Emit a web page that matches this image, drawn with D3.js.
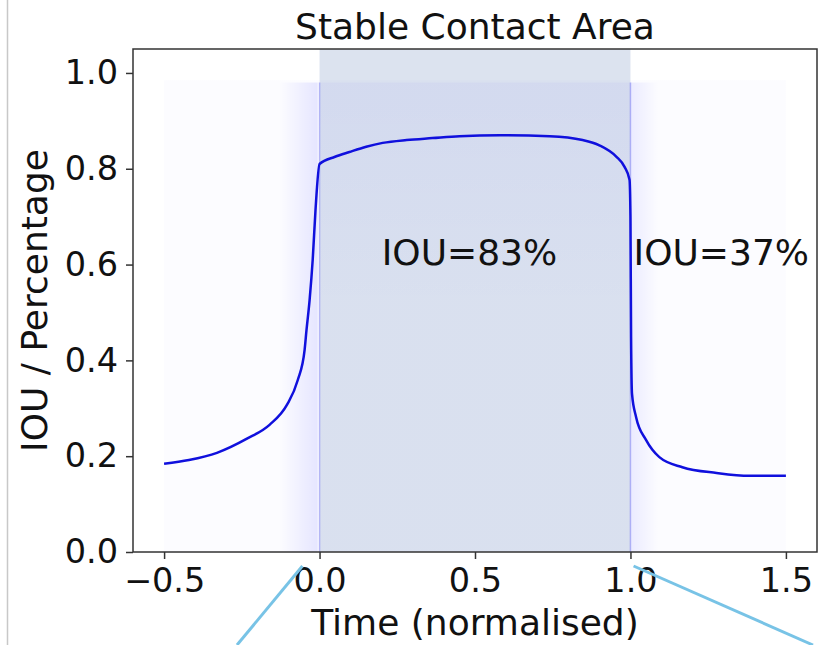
<!DOCTYPE html>
<html>
<head>
<meta charset="utf-8">
<script src="https://cdn.jsdelivr.net/npm/d3@7"></script>
<style>
  body { margin: 0; background: #fff; }
  svg { display: block; font-family: "DejaVu Sans", sans-serif; }
</style>
</head>
<body>
<div id="chart"></div>
<script>
// mean IOU curve
const meanTime = [-0.5, -0.42, -0.33, -0.235, -0.16, -0.105, -0.07, -0.048, -0.042, -0.032, -0.022, -0.013, 0.0,
  0.05, 0.096, 0.15, 0.203, 0.28, 0.363, 0.45, 0.58, 0.74, 0.846, 0.9, 0.955, 0.981, 0.997,
  1.0, 1.002, 1.005, 1.018, 1.05, 1.093, 1.167, 1.277, 1.383, 1.5];
const meanIou = [0.184, 0.192, 0.207, 0.236, 0.266, 0.307, 0.359, 0.422, 0.463, 0.526, 0.61, 0.714, 0.81,
  0.825, 0.835, 0.846, 0.854, 0.86, 0.864, 0.868, 0.87, 0.868, 0.86, 0.849, 0.825, 0.804, 0.777,
  0.70, 0.45, 0.33, 0.282, 0.234, 0.198, 0.177, 0.165, 0.159, 0.159];

const contactSpan = [0, 1];
const xTicks = [-0.5, 0, 0.5, 1.0, 1.5];
const yTicks = [0, 0.2, 0.4, 0.6, 0.8, 1.0];

// faint bundle of individual traces: [t0, t1, low, high, opacity start, opacity end, direction]
const traceBands = [
  [-0.5, 1.5, 0, 0.985, 0.012, 0.012, 'h'],
  [0, 1, 0.5, 0.98, 0.03, 0.0, 'v'],
  [-0.13, -0.006, 0, 0.98, 0.0, 0.09, 'h'],
  [1.0, 1.09, 0, 0.98, 0.07, 0.0, 'h']
];

const labels = ["IOU=83%", "IOU=37%"];
const labelTime = [0.2, 1.01];
const labelIou = [0.6, 0.6];

const W = 819, H = 645;
const margin = { top: 49, right: 2, bottom: 93, left: 133 };

const svg = d3.select('#chart').append('svg')
  .attr('width', W)
  .attr('height', H);

const x = d3.scaleLinear().domain([-0.6, 1.6]).range([margin.left, W - margin.right]);
const y = d3.scaleLinear().domain([0, 1.05]).range([H - margin.bottom, margin.top]);

const defs = svg.append('defs');
traceBands.forEach((b, i) => {
  const g = defs.append('linearGradient').attr('id', 'band' + i)
    .attr('x1', 0).attr('y1', 0)
    .attr('x2', b[6] === 'h' ? 1 : 0).attr('y2', b[6] === 'h' ? 0 : 1);
  g.append('stop').attr('offset', '0%').attr('stop-color', '#0000ff').attr('stop-opacity', b[4]);
  g.append('stop').attr('offset', '100%').attr('stop-color', '#0000ff').attr('stop-opacity', b[5]);
});

// screenshot border on the left
svg.append('line')
  .attr('x1', 7.5).attr('x2', 7.5)
  .attr('y1', 0).attr('y2', H)
  .attr('stroke', '#c8c8c8')
  .attr('stroke-width', 1.5);

svg.append('rect')
  .attr('x', x(contactSpan[0]))
  .attr('y', y(1.05))
  .attr('width', x(contactSpan[1]) - x(contactSpan[0]))
  .attr('height', y(0) - y(1.05))
  .attr('fill', '#dce3ef');

svg.append('g')
  .selectAll('rect')
  .data(traceBands)
  .join('rect')
  .attr('x', d => x(d[0]))
  .attr('y', d => y(d[3]))
  .attr('width', d => x(d[1]) - x(d[0]))
  .attr('height', d => y(d[2]) - y(d[3]))
  .attr('fill', (d, i) => `url(#band${i})`);

// edges where the traces jump
svg.append('g')
  .selectAll('line')
  .data(contactSpan)
  .join('line')
  .attr('x1', d => x(d)).attr('x2', d => x(d))
  .attr('y1', y(0.98)).attr('y2', y(0))
  .attr('stroke', '#3333ee')
  .attr('stroke-opacity', 0.3)
  .attr('stroke-width', 1.5);

const line = d3.line()
  .x((d, i) => x(meanTime[i]))
  .y(d => y(d))
  .curve(d3.curveMonotoneX);

svg.append('path')
  .datum(meanIou)
  .attr('fill', 'none')
  .attr('stroke', '#1010dd')
  .attr('stroke-width', 2.5)
  .attr('d', line);

svg.append('g')
  .selectAll('text')
  .data(labels)
  .join('text')
  .attr('x', (d, i) => x(labelTime[i]))
  .attr('y', (d, i) => y(labelIou[i]))
  .attr('font-size', 36)
  .attr('fill', '#111')
  .text(d => d);

// axes
const fmt = d3.format('.1f');
const xAxis = svg.append('g')
  .attr('transform', `translate(0,${y(0)})`)
  .call(d3.axisBottom(x).tickValues(xTicks).tickFormat(fmt).tickSize(7).tickPadding(9));
const yAxis = svg.append('g')
  .attr('transform', `translate(${x(-0.6)},0)`)
  .call(d3.axisLeft(y).tickValues(yTicks).tickFormat(fmt).tickSize(7).tickPadding(8));

[xAxis, yAxis].forEach(a => {
  a.select('.domain').remove();
  a.selectAll('line').attr('stroke', '#333').attr('stroke-width', 1.5);
  a.selectAll('text').attr('font-size', 33.5).attr('fill', '#111').attr('font-family', '"DejaVu Sans", sans-serif');
});

svg.append('rect')
  .attr('x', x(-0.6))
  .attr('y', y(1.05))
  .attr('width', x(1.6) - x(-0.6))
  .attr('height', y(0) - y(1.05))
  .attr('fill', 'none')
  .attr('stroke', '#333')
  .attr('stroke-width', 1.5);

svg.append('text')
  .attr('x', (x(-0.6) + x(1.6)) / 2)
  .attr('y', 39)
  .attr('text-anchor', 'middle')
  .attr('font-size', 36)
  .attr('fill', '#111')
  .text('Stable Contact Area');

svg.append('text')
  .attr('x', (x(-0.6) + x(1.6)) / 2)
  .attr('y', 635)
  .attr('text-anchor', 'middle')
  .attr('font-size', 36)
  .attr('fill', '#111')
  .text('Time (normalised)');

svg.append('text')
  .attr('transform', `translate(47,${(y(0) + y(1.05)) / 2}) rotate(-90)`)
  .attr('text-anchor', 'middle')
  .attr('font-size', 36)
  .attr('fill', '#111')
  .text('IOU / Percentage');

// callout lines leading out of the figure
const callouts = [[-0.055, 237], [1.01, 813]];
svg.append('g')
  .selectAll('line')
  .data(callouts)
  .join('line')
  .attr('x1', d => x(d[0]))
  .attr('y1', y(0) + 14)
  .attr('x2', d => d[1])
  .attr('y2', H)
  .attr('stroke', '#78c3e6')
  .attr('stroke-width', 3);
</script>
</body>
</html>
